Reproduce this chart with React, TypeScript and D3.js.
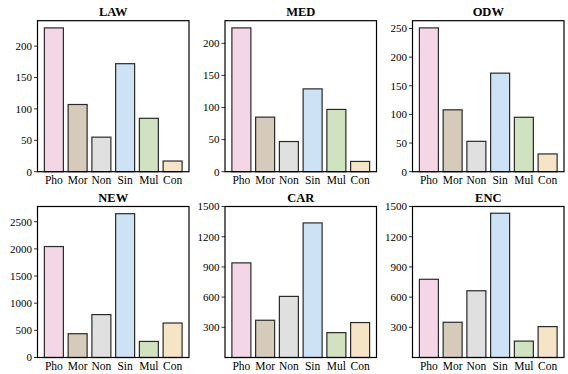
import React from "react";
import * as d3 from "d3";

const categories = ["Pho", "Mor", "Non", "Sin", "Mul", "Con"];
const colors = ["#f4d6e6", "#d6cbbb", "#e0e0e0", "#cee2f5", "#d0e2bf", "#f6e4c6"];

const titles = ["LAW", "MED", "ODW", "NEW", "CAR", "ENC"];
const LAW = [229, 107, 55, 172, 85, 17];
const MED = [224, 85, 47, 129, 97, 16];
const ODW = [251, 108, 53, 172, 95, 31];
const NEW = [2043, 438, 790, 2648, 296, 635];
const CAR = [940, 370, 607, 1337, 247, 347];
const ENC = [777, 350, 663, 1433, 163, 307];
const seriesList = [LAW, MED, ODW, NEW, CAR, ENC];

const ticksLAW = [0, 50, 100, 150, 200];
const ticksMED = [0, 50, 100, 150, 200];
const ticksODW = [0, 50, 100, 150, 200, 250];
const ticksNEW = [0, 500, 1000, 1500, 2000, 2500];
const ticksCAR = [300, 600, 900, 1200, 1500];
const ticksENC = [300, 600, 900, 1200, 1500];
const tickList = [ticksLAW, ticksMED, ticksODW, ticksNEW, ticksCAR, ticksENC];
// fixed y max for CAR/ENC; null => auto (max * 1.05)
const yMaxFixed: (number | null)[] = [null, null, null, null, 1500, 1500];

const FONT = "'Liberation Serif', 'Times New Roman', serif";

const colX = [37.5, 225, 412.5];
const rowY = [20.7, 206.5];
const PW = 151.5;
const PH = 151;

function Panel({ idx }: { idx: number }) {
  const values = seriesList[idx];
  const x0 = colX[idx % 3];
  const y0 = rowY[Math.floor(idx / 3)];
  const ymax = yMaxFixed[idx] ?? d3.max(values)! * 1.05;
  const x = d3
    .scaleBand<string>()
    .domain(categories)
    .range([x0, x0 + PW])
    .paddingInner(0.2)
    .paddingOuter(0.29);
  const y = d3.scaleLinear().domain([0, ymax]).range([y0 + PH, y0]);
  return (
    <g>
      <text
        x={x0 + PW / 2}
        y={y0 - 4.5}
        textAnchor="middle"
        fontFamily={FONT}
        fontWeight="bold"
        fontSize={12.5}
      >
        {titles[idx]}
      </text>
      {values.map((v, i) => (
        <rect
          key={i}
          x={x(categories[i])!}
          y={y(v)}
          width={x.bandwidth()}
          height={y(0) - y(v)}
          fill={colors[i]}
          stroke="#2a2a2a"
          strokeWidth={1.2}
        />
      ))}
      <rect x={x0} y={y0} width={PW} height={PH} fill="none" stroke="#000" strokeWidth={1.2} />
      {tickList[idx].map((t) => (
        <g key={t}>
          <line x1={x0 - 3.5} x2={x0} y1={y(t)} y2={y(t)} stroke="#000" strokeWidth={0.8} />
          <text
            x={x0 - 5.5}
            y={y(t)}
            dy="0.35em"
            textAnchor="end"
            fontFamily={FONT}
            fontSize={11}
          >
            {t}
          </text>
        </g>
      ))}
      {categories.map((c) => (
        <text
          key={c}
          x={x(c)! + x.bandwidth() / 2}
          y={y0 + PH + 12.5}
          textAnchor="middle"
          fontFamily={FONT}
          fontSize={11.5}
        >
          {c}
        </text>
      ))}
    </g>
  );
}

export default function App() {
  return (
    <svg
      width={568}
      height={374}
      style={{ position: "absolute", left: 0, top: 0, background: "#fff" }}
    >
      <rect width={568} height={374} fill="#fff" />
      {titles.map((_, i) => (
        <Panel key={i} idx={i} />
      ))}
    </svg>
  );
}
